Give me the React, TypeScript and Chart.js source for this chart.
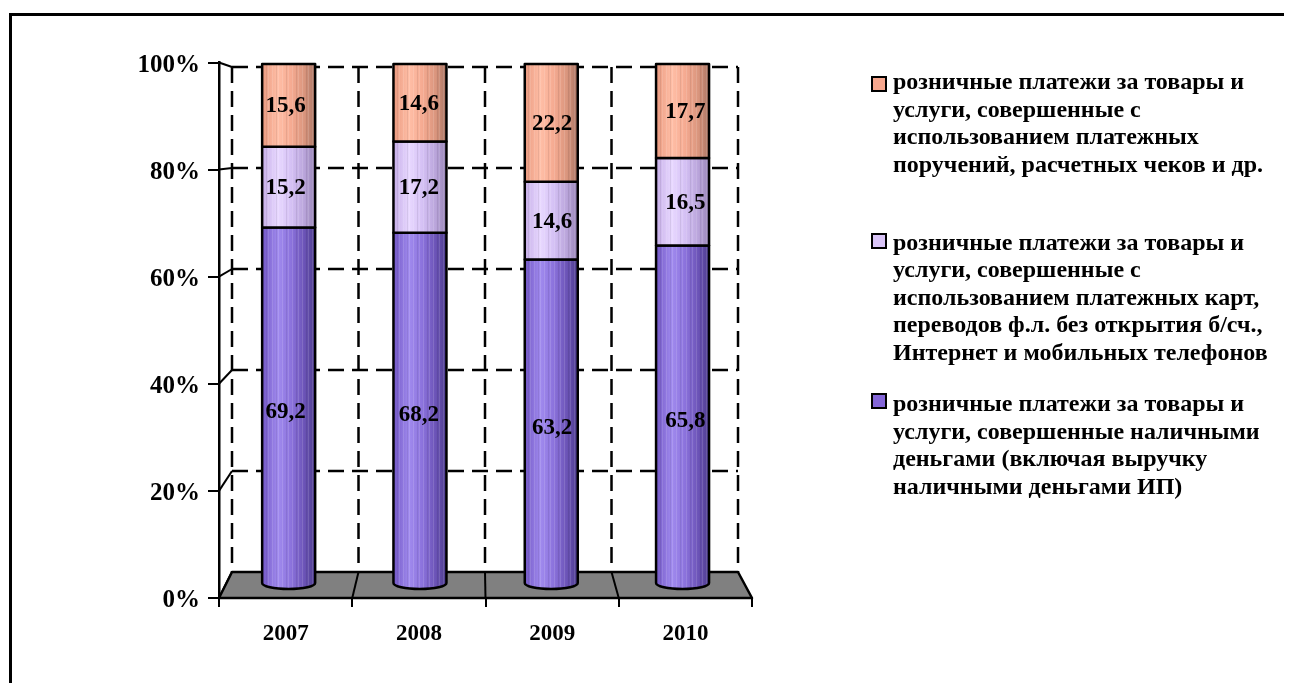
import React, { useEffect, useRef } from 'react';
import { Chart, registerables } from 'chart.js';

Chart.register(...registerables);

// Years along the category axis
const years = ['2007', '2008', '2009', '2010'];
// Structure of retail payments, % of the total for each year
const cashShare = [69.2, 68.2, 63.2, 65.8];
const cardShare = [15.2, 17.2, 14.6, 16.5];
const orderShare = [15.6, 14.6, 22.2, 17.7];
// Ticks of the percentage axis
const percentTicks = [0, 20, 40, 60, 80, 100];

// Legend captions, broken into lines
const cashLabel = [
  'розничные платежи за товары и',
  'услуги, совершенные наличными',
  'деньгами (включая выручку',
  'наличными деньгами ИП)',
];
const cardLabel = [
  'розничные платежи за товары и',
  'услуги, совершенные с',
  'использованием платежных карт,',
  'переводов ф.л. без открытия б/сч.,',
  'Интернет и мобильных телефонов',
];
const orderLabel = [
  'розничные платежи за товары и',
  'услуги, совершенные с',
  'использованием платежных',
  'поручений, расчетных чеков и др.',
];

const FONT = "'Liberation Serif', 'Times New Roman', serif";

type Palette = { swatch: string; stops: string[] };
const cashPalette: Palette = { swatch: '#8466D8', stops: ['#7358C6', '#A08AEE', '#8B72DC', '#6B53B6', '#4E3D8E'] };
const cardPalette: Palette = { swatch: '#D9C4F7', stops: ['#C6AEE8', '#E8D8FF', '#D4C0F4', '#B9A4DA', '#9885B6'] };
const orderPalette: Palette = { swatch: '#F7A78E', stops: ['#EA9A80', '#FFBEA6', '#F5AA91', '#D9957D', '#A97564'] };
const palettes = [cashPalette, cardPalette, orderPalette];

const yearNums = years.map(Number);
const firstYear = yearNums[0];

const line = (ctx: CanvasRenderingContext2D, x1: number, y1: number, x2: number, y2: number) => {
  ctx.beginPath();
  ctx.moveTo(x1, y1);
  ctx.lineTo(x2, y2);
  ctx.stroke();
};

const formatValue = (v: number) => v.toFixed(1).replace('.', ',');

// Draws the frame, the 3D walls/floor and the cylinder columns
const scenePlugin = {
  id: 'cylinderScene',
  beforeDraw(chart: any) {
    const ctx: CanvasRenderingContext2D = chart.ctx;
    ctx.save();
    ctx.fillStyle = '#ffffff';
    ctx.fillRect(0, 0, chart.width, chart.height);
    ctx.strokeStyle = '#000';
    ctx.lineWidth = 3;
    ctx.beginPath();
    ctx.moveTo(10.5, chart.height);
    ctx.lineTo(10.5, 14.5);
    ctx.lineTo(1284, 14.5);
    ctx.stroke();
    ctx.restore();
  },
  beforeDatasetsDraw(chart: any) {
    const ctx: CanvasRenderingContext2D = chart.ctx;
    const { x: xF, y: yF, xBack, yBack } = chart.scales;
    const n = years.length;
    const backL = xBack.getPixelForValue(firstYear - 0.5);
    const backR = xBack.getPixelForValue(firstYear + n - 0.5);
    const frontL = xF.getPixelForValue(-0.5);
    const frontR = xF.getPixelForValue(n - 0.5);
    const backFloor = yBack.getPixelForValue(0);
    const frontFloor = yF.getPixelForValue(0);
    const backTop = yBack.getPixelForValue(100);

    ctx.save();
    ctx.strokeStyle = '#000';
    ctx.lineCap = 'butt';
    // dashed grid on the back wall
    ctx.lineWidth = 2.5;
    ctx.setLineDash([16, 8]);
    percentTicks.forEach((v) => {
      if (v === 0) return;
      const py = yBack.getPixelForValue(v);
      line(ctx, backL, py, backR, py);
    });
    for (let k = 0; k <= n; k++) {
      const px = xBack.getPixelForValue(firstYear + k - 0.5);
      line(ctx, px, backTop, px, backFloor);
    }
    ctx.setLineDash([]);

    // side wall connectors from the front axis to the back wall
    ctx.lineWidth = 2;
    percentTicks.forEach((v) => {
      line(ctx, frontL, yF.getPixelForValue(v), backL, yBack.getPixelForValue(v));
    });

    // floor
    ctx.beginPath();
    ctx.moveTo(backL, backFloor);
    ctx.lineTo(backR, backFloor);
    ctx.lineTo(frontR, frontFloor);
    ctx.lineTo(frontL, frontFloor);
    ctx.closePath();
    ctx.fillStyle = '#808080';
    ctx.fill();
    ctx.lineWidth = 2.5;
    ctx.lineJoin = 'round';
    ctx.stroke();
    ctx.lineWidth = 2;
    for (let k = 1; k < n; k++) {
      line(ctx, xBack.getPixelForValue(firstYear + k - 0.5), backFloor, xF.getPixelForValue(k - 0.5), frontFloor);
    }
    ctx.restore();
  },
  afterDatasetsDraw(chart: any) {
    const ctx: CanvasRenderingContext2D = chart.ctx;
    const xF = chart.scales.x;
    const count = chart.data.datasets.length;
    for (let d = 0; d < count; d++) {
      const meta = chart.getDatasetMeta(d);
      const pal = palettes[d];
      meta.data.forEach((el: any) => {
        const { x, y, base, width } = el.getProps(['x', 'y', 'base', 'width'], true);
        const left = x - width / 2;
        const right = x + width / 2;
        const isBottom = d === 0;
        const ry = 6;
        const bottom = isBottom ? base - 12 : base;

        ctx.save();
        ctx.beginPath();
        ctx.moveTo(left, y);
        ctx.lineTo(left, bottom);
        if (isBottom) ctx.ellipse(x, bottom, width / 2, ry, 0, Math.PI, 0, true);
        else ctx.lineTo(right, bottom);
        ctx.lineTo(right, y);
        ctx.closePath();

        const g = ctx.createLinearGradient(left, 0, right, 0);
        const pos = [0, 0.3, 0.55, 0.8, 1];
        pal.stops.forEach((c, i) => g.addColorStop(pos[i], c));
        ctx.fillStyle = g;
        ctx.fill();

        // fine vertical striping of the column surface
        ctx.save();
        ctx.clip();
        for (let sx = Math.floor(left), j = 0; sx < right; sx += 2, j++) {
          const k = (j * 7) % 5;
          if (k < 2) ctx.fillStyle = 'rgba(255,255,255,0.13)';
          else if (k === 4) ctx.fillStyle = 'rgba(0,0,0,0.07)';
          else continue;
          ctx.fillRect(sx, y - 2, 1, bottom - y + ry + 4);
        }
        ctx.restore();

        ctx.strokeStyle = '#000';
        ctx.lineWidth = 2.5;
        ctx.lineJoin = 'round';
        ctx.stroke();
        ctx.restore();
      });
    }

    // value labels centred in each segment
    ctx.save();
    ctx.fillStyle = '#000';
    ctx.font = `bold 23px ${FONT}`;
    ctx.textAlign = 'center';
    ctx.textBaseline = 'middle';
    for (let d = 0; d < count; d++) {
      const meta = chart.getDatasetMeta(d);
      const ds = chart.data.datasets[d];
      meta.data.forEach((el: any, i: number) => {
        const { y, base } = el.getProps(['y', 'base'], true);
        ctx.fillText(formatValue(ds.data[i].y), xF.getPixelForValue(i), (y + base) / 2 + 1);
      });
    }
    ctx.restore();
  },
};

const legendItems = [
  { lines: orderLabel, palette: orderPalette },
  { lines: cardLabel, palette: cardPalette },
  { lines: cashLabel, palette: cashPalette },
];
const legendTextTops = [68, 228.5, 390];
const legendBoxTops = [76, 233, 393];

export default function App() {
  const canvasRef = useRef<HTMLCanvasElement>(null);

  useEffect(() => {
    const canvas = canvasRef.current;
    if (!canvas) return;
    const toPoints = (vals: number[]) => vals.map((v, i) => ({ x: yearNums[i], y: v }));
    const seriesDataset = (label: string[], vals: number[]) => ({
      label: label.join(' '),
      data: toPoints(vals),
      xAxisID: 'xBar',
      yAxisID: 'yBar',
      backgroundColor: 'rgba(0,0,0,0)',
      borderWidth: 0,
      barThickness: 53,
    });

    const chart = new Chart(canvas, {
      type: 'bar',
      data: {
        labels: years,
        datasets: [
          seriesDataset(cashLabel, cashShare),
          seriesDataset(cardLabel, cardShare),
          seriesDataset(orderLabel, orderShare),
        ] as any,
      },
      options: {
        responsive: false,
        animation: false,
        events: [],
        layout: { padding: { left: 0, top: 62.5, right: 540, bottom: 0 } },
        plugins: { legend: { display: false }, tooltip: { enabled: false } },
        scales: {
          x: {
            type: 'category',
            position: 'bottom',
            offset: true,
            grid: {
              display: true,
              offset: true,
              drawOnChartArea: false,
              drawTicks: true,
              tickLength: 9,
              color: '#000',
              lineWidth: 2,
            },
            border: { display: false },
            ticks: {
              color: '#000',
              font: { family: FONT, size: 23, weight: 'bold' },
              padding: 13,
              maxRotation: 0,
              autoSkip: false,
            },
            afterFit: (scale: any) => {
              scale.height = 85;
            },
          },
          y: {
            type: 'linear',
            position: 'left',
            min: 0,
            max: 100,
            afterBuildTicks: (scale: any) => {
              scale.ticks = percentTicks.map((v) => ({ value: v }));
            },
            grid: {
              display: true,
              drawOnChartArea: false,
              drawTicks: true,
              tickLength: 11,
              color: '#000',
              lineWidth: 2,
            },
            border: { display: true, color: '#000', width: 2.5 },
            ticks: {
              color: '#000',
              font: { family: FONT, size: 25, weight: 'bold' },
              padding: 8,
              labelOffset: 3,
              callback: (v: any) => `${v}%`,
            },
            afterFit: (scale: any) => {
              scale.width = 219;
            },
          },
          xBar: {
            type: 'linear',
            display: false,
            stacked: true,
            offset: false,
            min: firstYear - 0.5305,
            max: firstYear + 3.5289,
          },
          yBar: {
            type: 'linear',
            display: false,
            stacked: true,
            min: -0.565,
            max: 100.28,
          },
          xBack: {
            type: 'linear',
            display: false,
            offset: false,
            min: firstYear - 0.6028,
            max: firstYear + 3.6106,
          },
          yBack: {
            type: 'linear',
            display: false,
            min: -5.15,
            max: 100.89,
          },
        } as any,
      },
      plugins: [scenePlugin as any],
    });
    return () => chart.destroy();
  }, []);

  return (
    <div style={{ position: 'absolute', left: 0, top: 0, width: 1292, height: 683, background: '#fff', overflow: 'hidden' }}>
      <canvas ref={canvasRef} width={1292} height={683} style={{ position: 'absolute', left: 0, top: 0 }} />
      {legendItems.map((item, idx) => (
        <React.Fragment key={idx}>
          <div
            style={{
              position: 'absolute',
              left: 871,
              top: legendBoxTops[idx],
              width: 16,
              height: 16,
              boxSizing: 'border-box',
              border: '2px solid #000',
              background: item.palette.swatch,
            }}
          />
          <div
            style={{
              position: 'absolute',
              left: 893,
              top: legendTextTops[idx],
              font: `bold 24px ${FONT}`,
              lineHeight: '27.5px',
              color: '#000',
              whiteSpace: 'nowrap',
            }}
          >
            {item.lines.map((t, j) => (
              <div key={j}>{t}</div>
            ))}
          </div>
        </React.Fragment>
      ))}
    </div>
  );
}
